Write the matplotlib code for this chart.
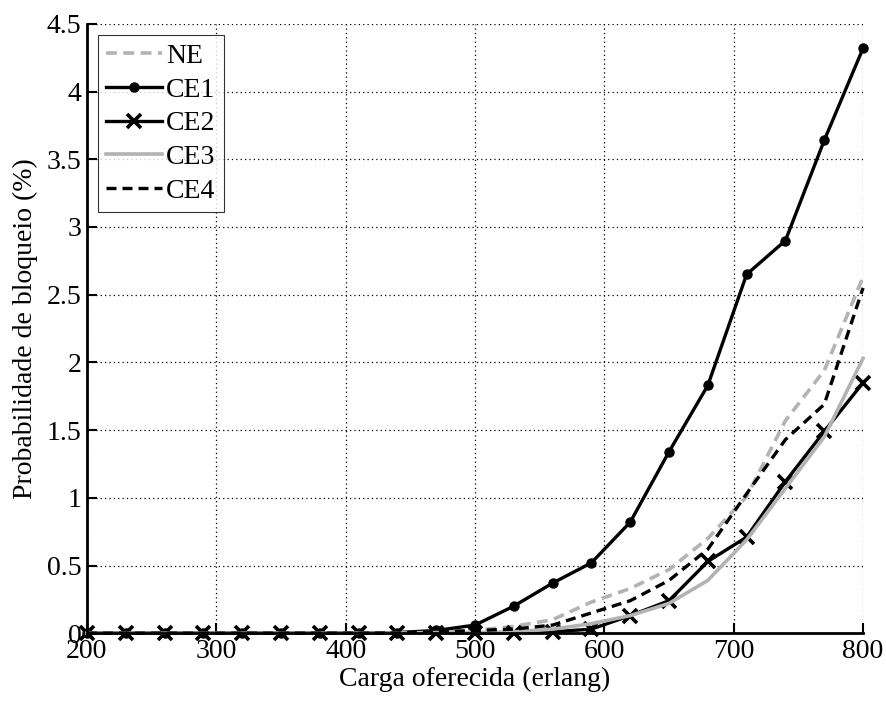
import matplotlib
matplotlib.use('Agg')
import matplotlib.pyplot as plt
import numpy as np

plt.rcParams['font.family'] = ['Liberation Serif', 'DejaVu Serif']

# carga oferecida (erlang)
carga = np.arange(200, 801, 30)

# probabilidade de bloqueio (%)
ne = [0, 0, 0, 0, 0, 0, 0, 0, 0.002, 0.01, 0.02, 0.05, 0.10, 0.23, 0.33, 0.47, 0.70, 1.01, 1.57, 1.94, 2.63]
ce1 = [0, 0, 0, 0, 0, 0, 0, 0, 0.005, 0.02, 0.06, 0.20, 0.37, 0.52, 0.82, 1.34, 1.83, 2.65, 2.90, 3.64, 4.32]
ce2 = [0, 0, 0, 0, 0, 0, 0, 0, 0.002, 0.005, 0.0, 0.005, 0.01, 0.03, 0.13, 0.24, 0.53, 0.71, 1.12, 1.49, 1.85]
ce3 = [0, 0, 0, 0, 0, 0, 0, 0, 0.002, 0.005, 0.005, 0.01, 0.03, 0.07, 0.13, 0.22, 0.39, 0.69, 1.07, 1.45, 2.03]
ce4 = [0, 0, 0, 0, 0, 0, 0, 0, 0.002, 0.01, 0.02, 0.03, 0.06, 0.15, 0.24, 0.39, 0.62, 1.03, 1.43, 1.69, 2.55]

cinza = '#b3b3b3'

fig = plt.figure(figsize=(8.87, 7.02), dpi=100)
ax = fig.add_axes([0.098, 0.098, 0.875, 0.868])

ax.plot(carga, ne, color=cinza, lw=2.6, linestyle=(0, (3, 1.8)), label='NE', clip_on=False)
ax.plot(carga, ce1, color='black', lw=2.4, marker='o', markersize=6.5, label='CE1', clip_on=False)
ax.plot(carga, ce2, color='black', lw=2.4, marker='x', markersize=10, mew=2.6, label='CE2', clip_on=False)
ax.plot(carga, ce3, color=cinza, lw=2.6, label='CE3', clip_on=False)
ax.plot(carga, ce4, color='black', lw=2.4, linestyle=(0, (3, 1.8)), label='CE4', clip_on=False)

ax.set_xlim(200, 800)
ax.set_ylim(0, 4.5)
ax.set_xticks(np.arange(200, 801, 100))
ax.set_yticks(np.arange(0, 4.51, 0.5))
ax.set_yticklabels(['0', '0.5', '1', '1.5', '2', '2.5', '3', '3.5', '4', '4.5'])

ax.grid(True, color='black', linestyle=(0, (1, 2.5)), linewidth=0.9)
ax.spines['top'].set_visible(False)
ax.spines['right'].set_visible(False)
ax.spines['left'].set_linewidth(2)
ax.spines['bottom'].set_linewidth(2)
ax.tick_params(direction='in', length=7, width=1.5, labelsize=20, pad=4)

ax.set_xlabel('Carga oferecida (erlang)', fontsize=20, labelpad=2)
ax.set_ylabel('Probabilidade de bloqueio (%)', fontsize=20, labelpad=6)

leg = ax.legend(loc='upper left', fontsize=20, frameon=True, fancybox=False,
                edgecolor='black', handlelength=2.0, handletextpad=0.15,
                labelspacing=0.3, borderpad=0.3, borderaxespad=0.4)
leg.get_frame().set_linewidth(0.8)

fig.savefig('out.png', dpi=100)
